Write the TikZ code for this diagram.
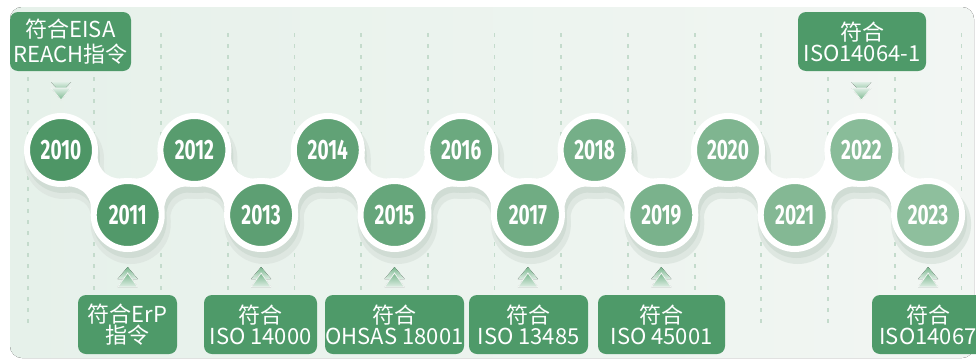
\documentclass[tikz,border=0pt]{standalone}
\usepackage{fontspec}
\usetikzlibrary{calc}
\newfontfamily\cjk{Noto Sans CJK SC}
\newfontfamily\yearfont{Fira Sans}[FakeStretch=0.68]
\definecolor{boxgreen}{RGB}{78,154,105}
\definecolor{ydark}{RGB}{78,150,102}
\definecolor{ylight}{RGB}{142,191,157}
\definecolor{panelL}{RGB}{230,241,234}
\definecolor{panelR}{RGB}{242,246,243}
\definecolor{dashcol}{RGB}{196,219,204}
\definecolor{shadowA}{RGB}{222,231,225}
\definecolor{shadowB}{RGB}{208,220,212}
\definecolor{chevD}{RGB}{122,183,142}
\definecolor{chevL}{RGB}{222,238,228}
\tikzset{
  bridge/.pic={\path[pic actions] (0,0) -- (29.2,22.7) arc[start angle=217.9,end angle=322.1,radius=22] -- (93.1,0) -- (63.9,-22.7) arc[start angle=37.9,end angle=142.1,radius=22] -- cycle;},
  dashline/.style={draw=dashcol,line width=1.8pt,dash pattern=on 4pt off 7pt},
  yearnode/.style={circle,minimum size=68pt,inner sep=0pt,draw=white,line width=6pt,text=white,font=\yearfont\bfseries\fontsize{28}{28}\selectfont},
  lbl/.style={rounded corners=8pt,fill=boxgreen,text=white,align=center,inner sep=0pt,minimum height=59pt,font=\cjk\fontsize{22}{21}\selectfont},
  chevup/.style={top color=chevD,bottom color=chevL},
  chevdown/.style={top color=chevL,bottom color=chevD},
}
\begin{document}
\begin{tikzpicture}[x=1pt,y=-1pt]
\useasboundingbox (0,0) rectangle (976,359);
\clip (0,0) rectangle (976,359);
\fill[white] (0,0) rectangle (976,359);
\fill[left color=panelL,right color=panelR,rounded corners=12pt] (10,7) rectangle (974,358);
% dashed guide lines
\foreach \k in {0,...,14}{
  \draw[dashline] ({61+66.7*(\k-0.5)},33) -- ++(0,295);
}
% centres
\foreach \i in {0,...,13}{
  \pgfmathsetmacro\yy{ifthenelse(mod(\i,2)==0,150,215)}
  \coordinate (p\i) at ({61+66.7*\i},\yy);
}
% shadow
\foreach \i in {0,...,12}{
  \pgfmathsetmacro\ang{ifthenelse(mod(\i,2)==0,-44.26,44.26)}
  \pic[fill=shadowA,draw=shadowA,line width=6pt,rotate=\ang] at ($(p\i)+(3,9)$) {bridge};
}
\foreach \i in {0,...,13}{
  \fill[shadowA] ($(p\i)+(3,9)$) circle[radius=40];
}
\foreach \i in {0,...,12}{
  \pgfmathsetmacro\ang{ifthenelse(mod(\i,2)==0,-44.26,44.26)}
  \pic[fill=shadowB,rotate=\ang] at ($(p\i)+(2,6)$) {bridge};
}
\foreach \i in {0,...,13}{
  \fill[shadowB] ($(p\i)+(2,6)$) circle[radius=37];
}
% white bridges
\foreach \i in {0,...,12}{
  \pgfmathsetmacro\ang{ifthenelse(mod(\i,2)==0,-44.26,44.26)}
  \pic[fill=white,rotate=\ang] at (p\i) {bridge};
}
% year circles
\foreach \i in {0,...,13}{
  \pgfmathtruncatemacro\p{\i*100/13}
  \pgfmathtruncatemacro\yr{2010+\i}
  \colorlet{cc}{ylight!\p!ydark}
  \node[yearnode,fill=cc] (y\yr) at (p\i) {\yr};
}
% labels
\node[lbl,minimum width=121pt] (l2010) at (70.5,41.5) {符合EISA\\[4pt]REACH指令};
\node[lbl,minimum width=128pt] (l2022) at (862,41.5) {符合\\ISO14064-1};
\node[lbl,minimum width=99pt] (l2011) at (127.5,324.5) {符合ErP\\指令};
\node[lbl,minimum width=113pt] (l2013) at (260.5,324.5) {符合\\ISO 14000};
\node[lbl,minimum width=139pt] (l2015) at (394.5,324.5) {符合\\OHSAS 18001};
\node[lbl,minimum width=119pt] (l2017) at (528.5,324.5) {符合\\ISO 13485};
\node[lbl,minimum width=127pt] (l2019) at (661.5,324.5) {符合\\ISO 45001};
\node[lbl,minimum width=112pt] (l2023) at (928,324.5) {符合\\ISO14067};
% chevrons down
\foreach \n in {2010,2022}{
  \path (y\n.center) ++(0,-68) coordinate (a\n);
  \fill[chevdown] ($(a\n)+(-10,0)$) -- ($(a\n)+(10,0)$) -- ($(a\n)+(0,11)$) -- cycle;
  \fill[chevdown,draw=panelR,line width=0.8pt] ($(a\n)+(-10,6)$) -- ($(a\n)+(10,6)$) -- ($(a\n)+(0,18)$) -- cycle;
}
% chevrons up
\foreach \n in {2011,2013,2015,2017,2019,2023}{
  \path (y\n.center) ++(0,52) coordinate (a\n);
  \fill[chevup] ($(a\n)+(-10,12)$) -- ($(a\n)+(10,12)$) -- ($(a\n)+(0,0)$) -- cycle;
  \fill[chevup,draw=panelR,line width=0.8pt] ($(a\n)+(-10,20)$) -- ($(a\n)+(10,20)$) -- ($(a\n)+(0,6)$) -- cycle;
}
\end{tikzpicture}
\end{document}
